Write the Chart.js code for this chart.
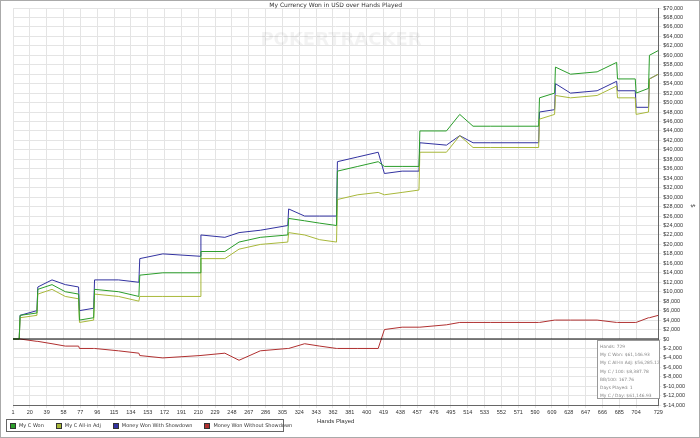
<!DOCTYPE html>
<html><head><meta charset="utf-8">
<script src="https://cdn.jsdelivr.net/npm/chart.js@4/dist/chart.umd.min.js"></script>
<style>
body{margin:0;background:#fff;font-family:"DejaVu Sans",sans-serif;}
#wrap{position:relative;width:700px;height:438px;border:1px solid #aaa;box-sizing:border-box;}
#legend{position:absolute;left:5px;top:418px;width:278px;height:13px;border:1px solid #666;font-size:5px;display:flex;align-items:center;gap:12px;padding-left:3px;box-sizing:border-box;color:#333;white-space:nowrap}
#legend span i{display:inline-block;width:4px;height:4px;border:1px solid #333;margin-right:3px;vertical-align:middle}
</style></head><body>
<div id="wrap"><canvas id="c" width="698" height="436"></canvas>
<div id="legend">
<span><i style="background:#2a9d2a"></i>My C Won</span>
<span><i style="background:#a8b83a"></i>My C All-in Adj</span>
<span><i style="background:#3232a0"></i>Money Won With Showdown</span>
<span><i style="background:#b03030"></i>Money Won Without Showdown</span>
</div></div>
<script>
const tickHands=[1,20,39,58,77,96,115,134,153,172,191,210,229,248,267,286,305,324,343,362,381,400,419,438,457,476,495,514,533,552,571,590,609,628,647,666,685,704,729];
const hands=[1,8,9,28,29,45,60,75,76,92,93,120,143,144,170,212,213,240,256,280,311,312,330,347,366,367,390,413,420,440,459,460,490,505,520,540,594,595,612,613,630,660,682,683,703,704,718,719,729];
const myCWon=[0,0,5,5.5,10.5,11.5,10,9.5,4,4.5,10.5,10,9,13.5,14,14,18.5,18.5,20.5,21.5,22,25.5,25,24.5,24,35.5,36.5,37.5,36.5,36.5,36.5,44,44,47.5,45,45,45,51,52,57.5,56,56.5,58.5,55,55,52,53,60,61];
const allInAdj=[0,0,4.5,5,9.5,10.5,9,8.5,3.5,4,9.5,9,8,9,9,9,17,17,19,20,20.5,22.5,22,21,20.5,29.5,30.5,31,30.5,31,31.5,39.5,39.5,43,40.5,40.5,40.5,46.5,47.5,51.5,51,51.5,53.5,51,51,47.5,48,55,56];
const withSD=[0,0,5,6,11,12.5,11.5,11,6,6.5,12.5,12.5,12,17,18,17.5,22,21.5,22.5,23,24,27.5,26,26,26,37.5,38.5,39.5,35,35.5,35.5,41.5,41,43,41.5,41.5,41.5,48,48.5,54,52,52.5,54.5,52.5,52.5,49,49,55,56];
const withoutSD=[0,0,0,-0.5,-0.5,-1,-1.5,-1.5,-2,-2,-2,-2.5,-3,-3.5,-4,-3.5,-3.5,-3,-4.5,-2.5,-2,-2,-1,-1.5,-2,-2,-2,-2,2,2.5,2.5,2.5,3,3.5,3.5,3.5,3.5,3.5,4,4,4,4,3.5,3.5,3.5,3.5,4.5,4.5,5];
const stats=["Hands: 729","My C Won: $61,146.93","My C All-In Adj: $56,285.12","My C / 100: $8,387.78","BB/100: 167.76","Days Played: 1","My C / Day: $61,146.93"];
const toPts=a=>a.map((v,i)=>({x:hands[i],y:v*1000}));
const ds=(l,a,c)=>({label:l,data:toPts(a),borderColor:c,borderWidth:1,pointRadius:0,tension:0});
const fmt=v=>(v<0?'$-':'$')+Math.abs(v).toLocaleString('en-US');
const deco={id:'deco',afterDraw(ch){const x=ch.ctx,a=ch.chartArea;x.save();
 x.fillStyle='#333';x.font='6px "DejaVu Sans"';x.textAlign='center';
 x.fillText('My Currency Won in USD over Hands Played',(a.left+a.right)/2,a.top-1);
 x.font='bold 18px "DejaVu Sans"';x.fillStyle='rgba(0,0,0,0.05)';x.fillText('POKERTRACKER',340,44);
 const y0=ch.scales.y.getPixelForValue(0);x.strokeStyle='#000';x.lineWidth=1;x.beginPath();x.moveTo(a.left,y0);x.lineTo(a.right,y0);x.stroke();
 x.fillStyle='#fff';x.strokeStyle='#999';x.fillRect(596,339,62,58);x.strokeRect(596.5,339.5,62,58);
 x.fillStyle='#888';x.font='4.4px "DejaVu Sans"';x.textAlign='left';
 stats.forEach((s,i)=>x.fillText(s,599,347+i*8.2));
 x.fillStyle='#333';x.font='6px "DejaVu Sans"';x.save();x.translate(690,205);x.rotate(Math.PI/2);x.textAlign='center';x.fillText('$',0,0);x.restore();
 x.restore();}};
new Chart(document.getElementById('c'),{type:'line',
 data:{datasets:[ds('My C Won',myCWon,'#2a9d2a'),ds('My C All-in Adj',allInAdj,'#a8b83a'),ds('Money Won With Showdown',withSD,'#3232a0'),ds('Money Won Without Showdown',withoutSD,'#b03030')]},
 options:{responsive:false,animation:false,devicePixelRatio:1,
  layout:{padding:{left:12,top:7,bottom:11,right:12}},
  plugins:{legend:{display:false},tooltip:{enabled:false}},
  scales:{
   x:{type:'linear',min:1,max:729,afterBuildTicks:s=>{s.ticks=tickHands.map(v=>({value:v}));},
    ticks:{autoSkip:false,maxRotation:0,font:{size:5.5},color:'#333',padding:1},
    grid:{color:'#e4e4e4',tickLength:3},border:{color:'#666'},
    title:{display:true,text:'Hands Played',font:{size:6},color:'#333',padding:1}},
   y:{position:'right',min:-14000,max:70000,afterBuildTicks:s=>{const t=[];for(let v=-14000;v<=70000;v+=2000)t.push({value:v});s.ticks=t;},
    ticks:{autoSkip:false,font:{size:5.5},color:'#333',callback:fmt,padding:2},
    grid:{color:'#e4e4e4',tickLength:3},border:{color:'#666'}}}},
 plugins:[deco]});
</script></body></html>
